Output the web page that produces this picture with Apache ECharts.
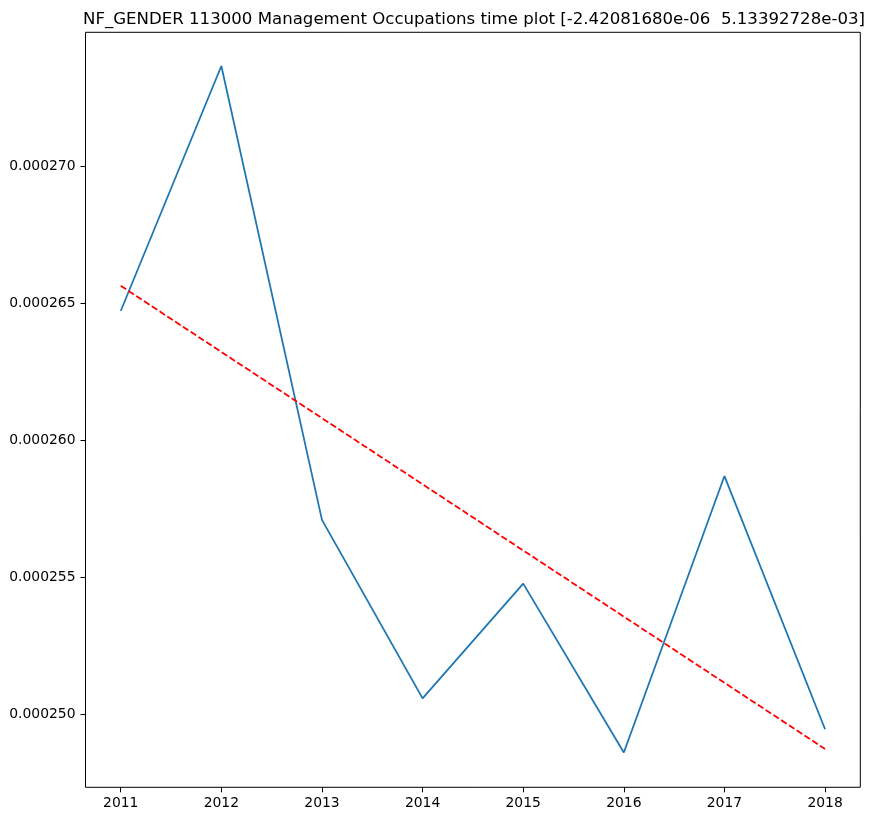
<!DOCTYPE html>
<html>
<head>
<meta charset="utf-8">
<script src="https://cdn.jsdelivr.net/npm/echarts@6/dist/echarts.min.js"></script>
<style>
  html, body { margin: 0; padding: 0; background: #fff; }
  #main { width: 873px; height: 821px; }
</style>
</head>
<body>
<div id="main"></div>
<script>
// values
const years = [2011, 2012, 2013, 2014, 2015, 2016, 2017, 2018]
const values = [0.00026473, 0.00027368, 0.00025710, 0.00025058, 0.00025477, 0.00024860, 0.00025870, 0.00024945]
// fitted trend line, end points only
const trendYears = [2011, 2018]
const trendValues = [0.00026565, 0.00024873]
const yTicks = [0.00025, 0.000255, 0.00026, 0.000265, 0.00027]
const titleText = 'NF_GENDER 113000 Management Occupations time plot [-2.42081680e-06  5.13392728e-03]'

const font = 'DejaVu Sans'
const chart = echarts.init(document.getElementById('main'))

const option = {
  animation: false,
  backgroundColor: '#fff',
  title: {
    text: titleText,
    left: 469,
    top: 6,
    textAlign: 'center',
    textStyle: { fontFamily: font, fontSize: 16.6, fontWeight: 'normal', color: '#000' }
  },
  grid: {
    left: 85.5,
    right: 12.7,
    top: 32.3,
    bottom: 33.7,
    show: true,
    borderColor: '#000',
    borderWidth: 1,
    backgroundColor: 'transparent'
  },
  xAxis: {
    type: 'value',
    min: 2010.65,
    max: 2018.35,
    splitLine: { show: false },
    axisLine: { show: false },
    axisTick: { show: true, length: 5, customValues: years, lineStyle: { color: '#000' } },
    axisLabel: {
      customValues: years,
      fontFamily: font,
      fontSize: 13.9,
      color: '#000',
      margin: 9,
      formatter: v => String(Math.round(v))
    }
  },
  yAxis: {
    type: 'value',
    min: 0.00024733,
    max: 0.00027491,
    splitLine: { show: false },
    axisLine: { show: false },
    axisTick: { show: true, length: 5, customValues: yTicks, lineStyle: { color: '#000' } },
    axisLabel: {
      customValues: yTicks,
      fontFamily: font,
      fontSize: 13.9,
      color: '#000',
      margin: 10,
      formatter: v => v.toFixed(6)
    }
  },
  series: [
    {
      type: 'line',
      data: years.map((y, i) => [y, values[i]]),
      showSymbol: false,
      lineStyle: { color: '#1f77b4', width: 1.8 },
      z: 2
    },
    {
      type: 'line',
      data: trendYears.map((y, i) => [y, trendValues[i]]),
      showSymbol: false,
      lineStyle: { color: '#ff0000', width: 1.8, type: [6.5, 2.8] },
      z: 3
    }
  ]
}

chart.setOption(option)
</script>
</body>
</html>
